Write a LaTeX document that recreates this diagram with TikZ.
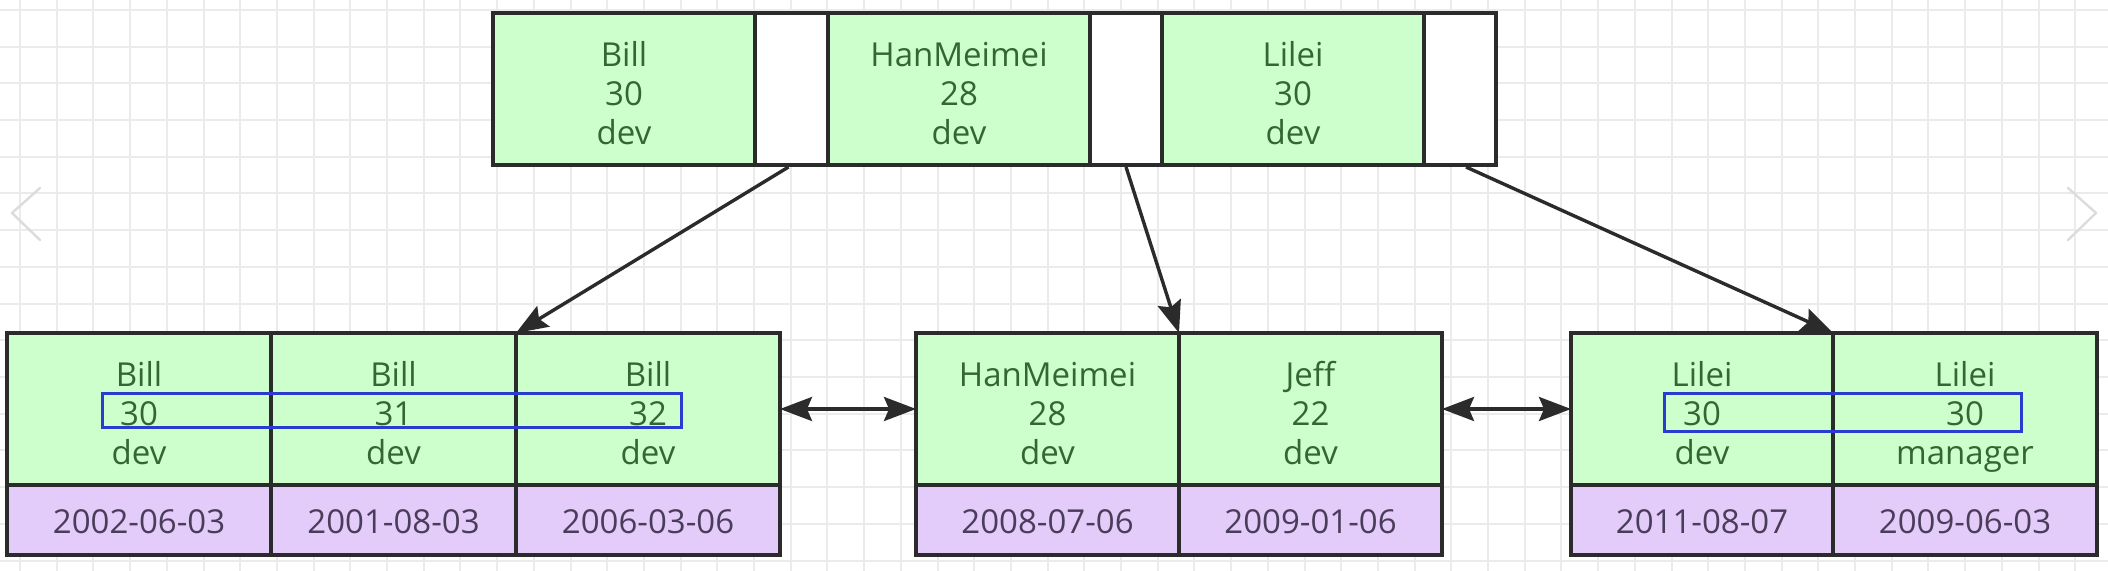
\documentclass[tikz,border=0pt]{standalone}
\usepackage{fontspec}
\setmainfont{Open Sans}
\usetikzlibrary{arrows.meta,calc}
\definecolor{gfill}{HTML}{CCFFCC}
\definecolor{pfill}{HTML}{E3CCFA}
\definecolor{gtext}{HTML}{336633}
\definecolor{ptext}{HTML}{4A3D5A}
\definecolor{edgec}{HTML}{2B2B2B}
\definecolor{hlblue}{HTML}{2A3BD0}
\definecolor{gridc}{HTML}{EBEBEB}
\definecolor{chevc}{HTML}{DCDCDC}
\newcommand{\rowtxt}[3]{\rule{0pt}{20.5pt}#1\\#2\\#3\vphantom{g}}
\newcommand{\datetxt}[1]{\rule{0pt}{17.2pt}#1\vphantom{g}}
\begin{document}
\begin{tikzpicture}[x=0.5pt,y=-0.5pt,
  cellbase/.style={draw=edgec, line width=1.7pt, anchor=north west, inner sep=0pt, outer sep=0pt,
    align=center, font=\fontsize{16.5}{19.5}\selectfont},
  gcell/.style={cellbase, fill=gfill, text=gtext, minimum height=76pt},
  ptrcell/.style={cellbase, fill=white, minimum height=76pt},
  dcell/.style={cellbase, fill=pfill, text=ptext, minimum height=35pt},
  link/.style={draw=edgec, line width=1.7pt, -{Stealth[length=16pt,width=12pt,inset=2.5pt]}},
  dlink/.style={draw=edgec, line width=1.7pt, {Stealth[length=16pt,width=12pt,inset=2.5pt]}-{Stealth[length=16pt,width=12pt,inset=2.5pt]}},
  hlbox/.style={draw=hlblue, line width=1.5pt},
  gridline/.style={draw=gridc, line width=1pt},
  chev/.style={draw=chevc, line width=1.2pt, line cap=round, line join=round}]
\fill[white] (0,0) rectangle (2108,571);
\useasboundingbox (0,0) rectangle (2108,571);
% background grid
\foreach \i in {0,...,57} \draw[gridline] ({20+36.7*\i},0) -- ({20+36.7*\i},571);
\foreach \j in {0,...,15} \draw[gridline] (0,{10+36.7*\j}) -- (2108,{10+36.7*\j});
% navigation chevrons
\draw[chev] (40,188) -- (12,213) -- (40,240);
\draw[chev] (2068,188) -- (2096,213) -- (2068,240);
% root node
\node[gcell, minimum width=131pt] (t1) at (493,13) {\rowtxt{Bill}{30}{dev}};
\node[ptrcell, minimum width=36.5pt] (p1) at (t1.north east) {};
\node[gcell, minimum width=131pt] (t2) at (p1.north east) {\rowtxt{HanMeimei}{28}{dev}};
\node[ptrcell, minimum width=36pt] (p2) at (t2.north east) {};
\node[gcell, minimum width=131pt] (t3) at (p2.north east) {\rowtxt{Lilei}{30}{dev}};
\node[ptrcell, minimum width=36pt] (p3) at (t3.north east) {};
% left leaf
\node[gcell, minimum width=132pt] (a1) at (7,333) {\rowtxt{Bill}{30}{dev}};
\node[gcell, minimum width=122.5pt] (a2) at (a1.north east) {\rowtxt{Bill}{31}{dev}};
\node[gcell, minimum width=132pt] (a3) at (a2.north east) {\rowtxt{Bill}{32}{dev}};
\node[dcell, minimum width=132pt] (a1d) at (a1.south west) {\datetxt{2002-06-03}};
\node[dcell, minimum width=122.5pt] (a2d) at (a2.south west) {\datetxt{2001-08-03}};
\node[dcell, minimum width=132pt] (a3d) at (a3.south west) {\datetxt{2006-03-06}};
% middle leaf
\node[gcell, minimum width=131.5pt] (m1) at (916,333) {\rowtxt{HanMeimei}{28}{dev}};
\node[gcell, minimum width=131.5pt] (m2) at (m1.north east) {\rowtxt{Jeff}{22}{dev}};
\node[dcell, minimum width=131.5pt] (m1d) at (m1.south west) {\datetxt{2008-07-06}};
\node[dcell, minimum width=131.5pt] (m2d) at (m2.south west) {\datetxt{2009-01-06}};
% right leaf
\node[gcell, minimum width=131pt] (r1) at (1571,333) {\rowtxt{Lilei}{30}{dev}};
\node[gcell, minimum width=132pt] (r2) at (r1.north east) {\rowtxt{Lilei}{30}{manager}};
\node[dcell, minimum width=131pt] (r1d) at (r1.south west) {\datetxt{2011-08-07}};
\node[dcell, minimum width=132pt] (r2d) at (r2.south west) {\datetxt{2009-06-03}};
% highlight boxes
\draw[hlbox] (102,394) rectangle (681,427);
\draw[hlbox] (1664,394) rectangle (2021,431);
% tree links
\draw[link] ($(p1.south)+(-3,2)$) -- (a3.north west);
\draw[link] ($(p2.south)+(0,2)$) -- (m2.north west);
\draw[link] ($(p3.south)+(6,2)$) -- (r2.north west);
% sibling links
\draw[dlink] (a3.east) -- (m1.west);
\draw[dlink] (m2.east) -- (r1.west);
\end{tikzpicture}
\end{document}
